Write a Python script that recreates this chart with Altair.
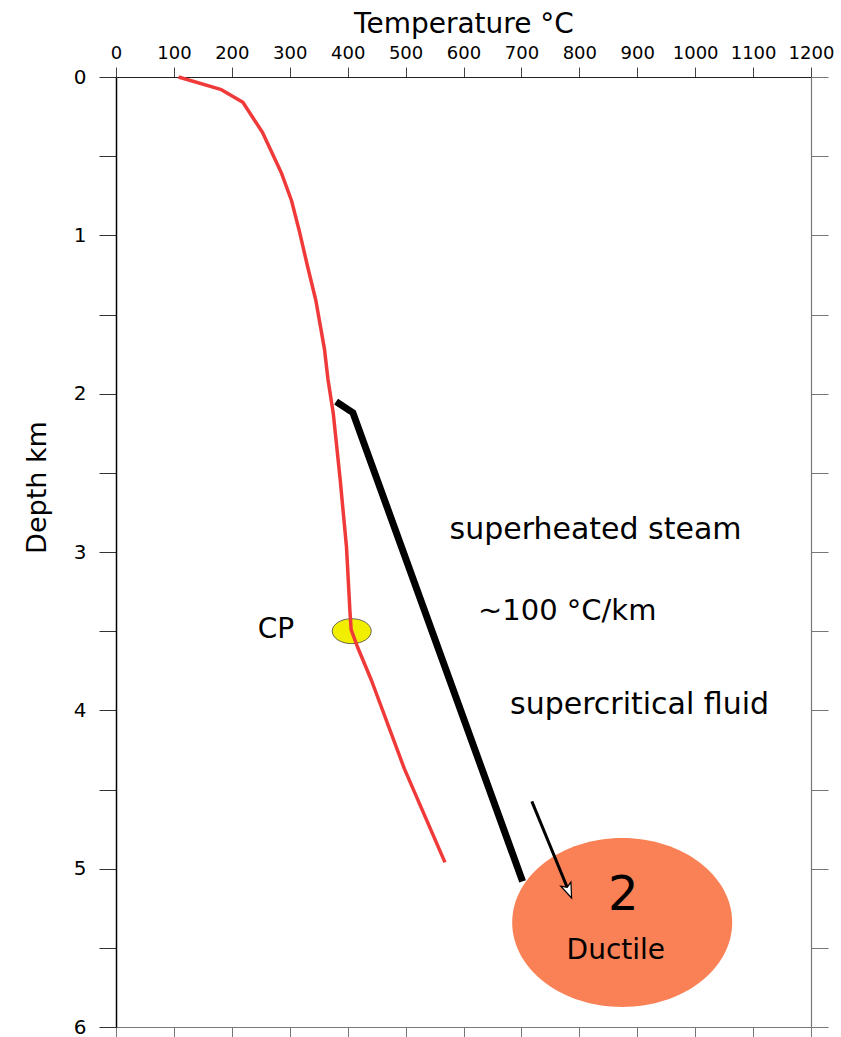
import altair as alt
import pandas as pd

FONT = "DejaVu Sans"

# red temperature profile (°C, km)
red_temp = [108, 182, 219, 253, 286, 303, 317, 331, 345, 360, 366, 375, 387, 398, 404, 406, 417, 441, 498, 568]
red_depth = [0.0, 0.08, 0.16, 0.35, 0.61, 0.78, 0.98, 1.2, 1.41, 1.72, 1.91, 2.12, 2.54, 2.97, 3.38, 3.49, 3.6, 3.81, 4.37, 4.96]

# black gradient line
blk_temp = [380, 409, 702]
blk_depth = [2.05, 2.12, 5.08]

# thin arrow
arr_temp = [718, 780]
arr_depth = [4.575, 5.127]
arrow_head_temp = [780]
arrow_head_depth = [5.127]

# ellipses
cp_temp = [407]
cp_depth = [3.5]
duct_temp = [874]
duct_depth = [5.34]

# labels
lab_text = ["superheated steam", "~100 °C/km", "supercritical fluid", "CP", "Ductile"]
lab_temp = [828, 779, 904, 276, 863]
lab_depth = [2.86, 3.37, 3.965, 3.49, 5.52]
lab_size = [30, 29, 30, 28, 28]
big_text = ["2"]
big_temp = [876]
big_depth = [5.17]

x_ticks = list(range(0, 1300, 100))
y_ticks = [i * 0.5 for i in range(13)]

red_df = pd.DataFrame({"T": red_temp, "D": red_depth, "i": range(len(red_temp))})
blk_df = pd.DataFrame({"T": blk_temp, "D": blk_depth, "i": range(len(blk_temp))})
arr_df = pd.DataFrame({"T": arr_temp, "D": arr_depth, "i": range(len(arr_temp))})
head_df = pd.DataFrame({"T": arrow_head_temp, "D": arrow_head_depth})
cp_df = pd.DataFrame({"T": cp_temp, "D": cp_depth})
duct_df = pd.DataFrame({"T": duct_temp, "D": duct_depth})
lab_df = pd.DataFrame({"t": lab_text, "T": lab_temp, "D": lab_depth, "s": lab_size})
big_df = pd.DataFrame({"t": big_text, "T": big_temp, "D": big_depth})

xs = alt.Scale(domain=[0, 1200], nice=False, zero=False)
ys = alt.Scale(domain=[0, 6], reverse=True, nice=False, zero=False)

top_axis = alt.Axis(orient="top", values=x_ticks, format="d", tickSize=10, tickColor="#444", domainColor="#222",
                    domainWidth=1.2, labelFont=FONT, labelFontSize=18, labelColor="black",
                    labelPadding=5, labelFlush=False, labelOverlap=False, grid=False,
                    title="Temperature °C", titleFont=FONT, titleFontSize=28, titleFontWeight="normal",
                    titleColor="black", titlePadding=6)
left_axis = alt.Axis(orient="left", values=y_ticks, tickSize=17, tickColor="#333", domainColor="black",
                     domainWidth=1.5, labelFont=FONT, labelFontSize=20, labelColor="black",
                     labelPadding=13, labelFlush=False, labelOverlap=False, grid=False,
                     labelExpr="datum.value % 1 == 0 ? format(datum.value, 'd') : ''",
                     title="Depth km", titleFont=FONT, titleFontSize=27, titleFontWeight="normal",
                     titleColor="black", titlePadding=22, titleY=410)
bottom_axis = alt.Axis(orient="bottom", values=x_ticks, tickSize=10, tickColor="#777", domainColor="#777",
                       domainWidth=1.2, labels=False, grid=False, title=None)
right_axis = alt.Axis(orient="right", values=y_ticks, tickSize=17, tickColor="#777", domainColor="#777",
                      domainWidth=1.2, labels=False, grid=False, title=None)

ELLIPSE_BIG = "M-1,0 A1,0.768 0 1,1 1,0 A1,0.768 0 1,1 -1,0 Z"
ELLIPSE_CP = "M-1,0 A1,0.64 0 1,1 1,0 A1,0.64 0 1,1 -1,0 Z"
ARROW = "M0,1 L-0.55,-0.5 L0,-0.15 L0.55,-0.5 Z"

duct = alt.Chart(duct_df).mark_point(shape=ELLIPSE_BIG, size=220 * 220, filled=True, fill="#FA8155",
                                     strokeWidth=0, opacity=1).encode(
    x=alt.X("T:Q", scale=xs, axis=top_axis),
    y=alt.Y("D:Q", scale=ys, axis=left_axis),
)

cp = alt.Chart(cp_df).mark_point(shape=ELLIPSE_CP, size=39 * 39, filled=False, fill="#F2EE00",
                                 fillOpacity=1, stroke="#444", strokeWidth=0.8, opacity=1).encode(
    x=alt.X("T:Q", scale=xs, axis=None),
    y=alt.Y("D:Q", scale=ys, axis=None),
)

red = alt.Chart(red_df).mark_line(color="#F03A3A", strokeWidth=3.5, strokeJoin="round").encode(
    x=alt.X("T:Q", scale=xs, axis=None),
    y=alt.Y("D:Q", scale=ys, axis=None),
    order="i:Q",
)

blk = alt.Chart(blk_df).mark_line(color="black", strokeWidth=7, strokeCap="butt", strokeJoin="miter").encode(
    x=alt.X("T:Q", scale=xs, axis=bottom_axis),
    y=alt.Y("D:Q", scale=ys, axis=right_axis),
    order="i:Q",
)

arr = alt.Chart(arr_df).mark_line(color="black", strokeWidth=3, strokeCap="butt").encode(
    x=alt.X("T:Q", scale=xs, axis=None),
    y=alt.Y("D:Q", scale=ys, axis=None),
    order="i:Q",
)

head = alt.Chart(head_df).mark_point(shape=ARROW, size=400, filled=True, fill="white", stroke="black",
                                     strokeWidth=1.2, opacity=1, angle=337.5).encode(
    x=alt.X("T:Q", scale=xs, axis=None),
    y=alt.Y("D:Q", scale=ys, axis=None),
)

labels = alt.Chart(lab_df).mark_text(font=FONT, color="black", align="center", baseline="middle").encode(
    x=alt.X("T:Q", scale=xs, axis=None),
    y=alt.Y("D:Q", scale=ys, axis=None),
    text="t:N",
    size=alt.Size("s:Q", scale=None, legend=None),
)

big = alt.Chart(big_df).mark_text(font=FONT, color="black", align="center", baseline="middle",
                                  fontSize=48).encode(
    x=alt.X("T:Q", scale=xs, axis=None),
    y=alt.Y("D:Q", scale=ys, axis=None),
    text="t:N",
)

chart = alt.layer(duct, cp, red, blk, arr, head, labels, big).resolve_axis(
    x="independent", y="independent"
).properties(
    width=695, height=950,
    padding={"left": 116, "top": 77, "right": 30, "bottom": 10},
    autosize="none",
    background="white",
).configure_view(stroke=None)

chart.save("out.html", embed_options={"renderer": "svg", "actions": False})
